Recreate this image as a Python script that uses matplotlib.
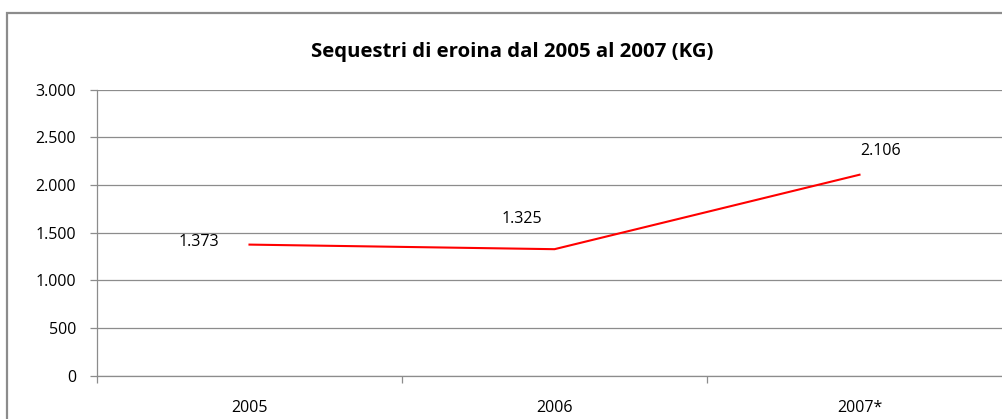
import matplotlib
matplotlib.use("Agg")
import matplotlib.pyplot as plt
from matplotlib.patches import Rectangle
from matplotlib.ticker import FuncFormatter

# dati
anni = ["2005", "2006", "2007*"]
sequestri = [1373, 1325, 2106]
etichette = ["1.373", "1.325", "2.106"]
# spostamento etichette (pixel) come nell'originale
offs = [(-51, 3), (-33, 30), (21, 24)]

plt.rcParams['font.family'] = ['Open Sans', 'DejaVu Sans']

W, H = 1003, 419
fig = plt.figure(figsize=(W / 100, H / 100), dpi=100)

# cornice esterna del grafico
fig.patches.append(Rectangle((7.5 / W, -0.1), 1.2, 1 - 13.5 / H + 0.1,
                             transform=fig.transFigure, fill=False,
                             edgecolor='#8c8c8c', linewidth=1.6))

ax = fig.add_axes([97 / W, (H - 375.5) / H, 915 / W, 286 / H])
x = list(range(len(anni)))
ax.plot(x, sequestri, color='#ff0000', linewidth=1.5)

for xi, v, lab, (dx, dy) in zip(x, sequestri, etichette, offs):
    ax.annotate(lab, (xi, v), xytext=(dx, dy), textcoords='offset pixels',
                ha='center', va='center', fontsize=11.5, color='#000000')

ax.set_xlim(-0.5, 2.5)
ax.set_ylim(0, 3000)
ax.set_yticks(range(0, 3001, 500))
ax.yaxis.set_major_formatter(FuncFormatter(lambda v, p: f"{int(v):,}".replace(",", ".")))
ax.yaxis.grid(True, color='#8c8c8c', linewidth=0.9)
ax.set_axisbelow(True)

ax.set_xticks([-0.5, 0.5, 1.5])
ax.set_xticklabels([])
ax.set_xticks(x, minor=True)
ax.set_xticklabels(anni, minor=True)
ax.tick_params(axis='x', which='major', length=5, color='#8c8c8c', width=0.9)
ax.tick_params(axis='x', which='minor', length=0, labelsize=11.5, pad=17.5)
ax.tick_params(axis='y', length=5, color='#8c8c8c', width=0.9, labelsize=11.5, pad=10)

for s in ['top', 'right']:
    ax.spines[s].set_visible(False)
ax.spines['left'].set_color('#8c8c8c')
ax.spines['left'].set_linewidth(0.9)
ax.spines['bottom'].set_color('#8c8c8c')
ax.spines['bottom'].set_linewidth(0.9)

titolo = fig.text(512 / W, 1 - 52 / H, "Sequestri di eroina dal 2005 al 2007 (KG)",
                  ha='center', va='center', fontsize=13, fontweight='bold')
# adatta la larghezza del titolo (circa 400 px come nell'originale)
fig.canvas.draw()
w = titolo.get_window_extent().width
titolo.set_fontsize(13 * 400 / w)

fig.savefig("out.png", dpi=100)
